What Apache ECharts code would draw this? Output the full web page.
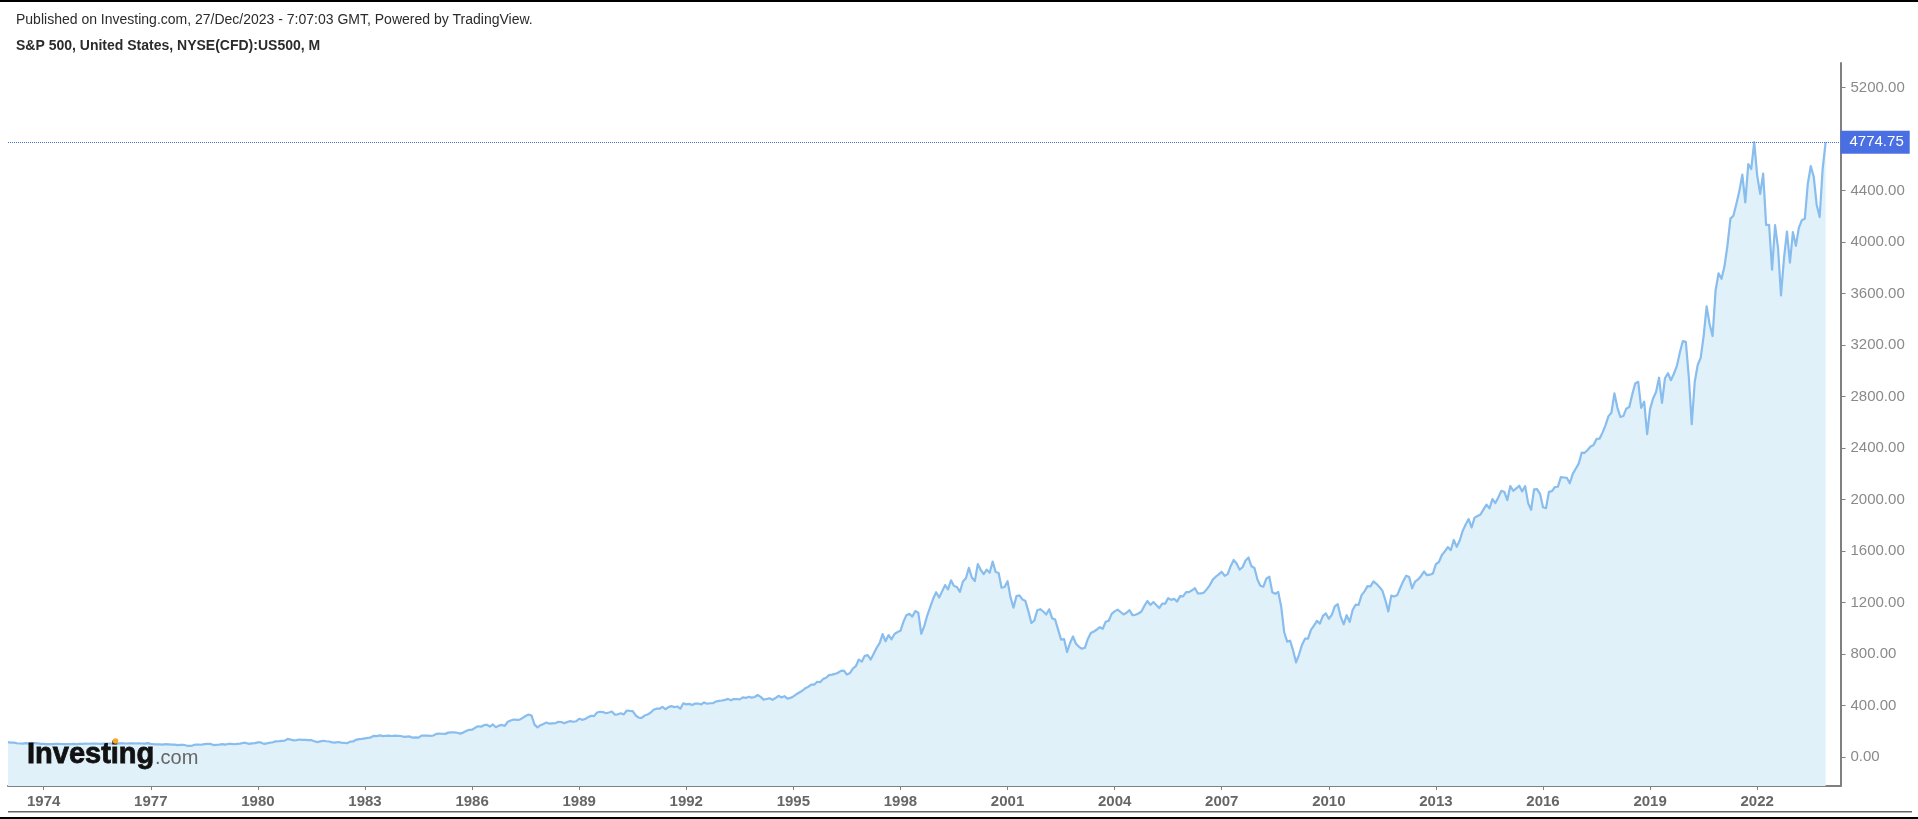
<!DOCTYPE html>
<html><head><meta charset="utf-8">
<style>html,body{margin:0;padding:0;background:#fff}#c{width:1918px;height:819px}</style>
<script src="https://cdn.jsdelivr.net/npm/echarts@6/dist/echarts.min.js"></script>
</head><body><div id="c"></div>
<script>
const publishedLine = "Published on Investing.com, 27/Dec/2023 - 7:07:03 GMT, Powered by TradingView.";
const instrumentLine = "S&P 500, United States, NYSE(CFD):US500, M";
const lastValue = 4774.75;
const yearTickLabels = ["1974","1977","1980","1983","1986","1989","1992","1995","1998","2001","2004","2007","2010","2013","2016","2019","2022"];
const priceTicks = [0,400,800,1200,1600,2000,2400,2800,3200,3600,4000,4400,5200];
const firstYear = 1973;
const monthsOnAxis = 617;
const monthlyClose = [
116.03,111.68,111.52,106.97,104.95,104.26,108.22,104.25,108.43,108.29,105.96,102.55,
101.57,100.22,99.98,100.31,102.28,103.00,101.31,100.15,99.54,100.90,101.97,100.56,
101.98,102.59,103.36,103.30,104.15,105.19,103.75,102.88,103.87,104.04,105.24,105.19,
106.86,105.71,106.77,105.64,105.18,106.28,105.44,104.91,106.24,104.90,104.10,107.46,
102.03,99.82,98.42,98.44,96.12,100.48,98.85,96.77,96.53,92.34,94.83,95.10,
89.25,87.04,89.21,96.83,97.24,95.53,100.68,103.29,102.54,93.15,94.70,96.11,
99.93,96.28,101.59,101.76,99.08,102.91,103.81,109.32,109.32,101.82,106.16,107.94,
114.16,113.66,102.09,106.29,111.24,114.24,121.67,122.38,125.46,127.47,140.52,135.76,
129.55,131.27,136.00,132.81,132.59,131.21,130.92,122.79,116.18,121.89,126.35,122.55,
120.40,113.11,111.96,116.44,111.88,109.61,107.09,119.51,120.42,133.71,138.54,140.64,
145.30,148.06,152.96,164.42,162.39,168.11,162.56,164.40,166.07,163.55,166.40,164.93,
163.41,157.06,159.18,160.05,150.55,153.18,150.66,166.68,166.10,166.09,163.58,167.24,
179.63,181.18,180.66,179.83,189.55,191.85,190.92,188.63,182.08,189.82,202.17,211.28,
211.78,226.92,238.90,235.52,247.35,250.84,236.12,252.93,231.32,243.98,249.22,242.17,
274.08,284.20,291.70,288.36,290.10,304.00,318.66,329.80,321.83,251.79,230.30,247.08,
257.07,267.82,258.89,261.33,262.16,273.50,272.02,261.52,271.91,278.97,273.70,277.72,
297.47,288.86,294.87,309.64,320.52,317.98,346.08,351.45,349.15,340.36,345.99,353.40,
329.08,331.89,339.94,330.80,361.23,358.02,356.15,322.56,306.05,304.00,322.22,330.22,
343.93,367.07,375.22,375.34,389.83,371.16,387.81,395.43,387.86,392.45,375.22,417.09,
408.79,412.70,403.69,414.95,415.35,408.14,424.21,414.03,417.80,418.68,431.35,435.71,
438.78,443.38,451.67,440.19,450.19,450.53,448.13,463.56,458.93,467.83,461.79,466.45,
481.61,467.14,445.77,450.91,456.50,444.27,458.26,475.49,462.69,472.35,453.69,459.27,
470.42,487.39,500.71,514.71,533.40,544.75,562.06,561.88,584.41,581.50,605.37,615.93,
636.02,640.43,645.50,654.17,669.12,670.63,639.95,651.99,687.33,705.27,757.02,740.74,
786.16,790.82,757.12,801.34,848.28,885.14,954.29,899.47,947.28,914.62,955.40,970.43,
980.28,1049.34,1101.75,1111.75,1090.82,1133.84,1120.67,957.28,1017.01,1098.67,1163.63,1229.23,
1279.64,1238.33,1286.37,1335.18,1301.84,1372.71,1328.72,1320.41,1282.71,1362.93,1388.91,1469.25,
1394.46,1366.42,1498.58,1452.43,1420.60,1454.60,1430.83,1517.68,1436.51,1429.40,1314.95,1320.28,
1366.01,1239.94,1160.33,1249.46,1255.82,1224.38,1211.23,1133.58,1040.94,1059.78,1139.45,1148.08,
1130.20,1106.73,1147.39,1076.92,1067.14,989.82,911.62,916.07,815.28,885.76,936.31,879.82,
855.70,841.15,848.18,916.92,963.59,974.50,990.31,1008.01,995.97,1050.71,1058.20,1111.92,
1131.13,1144.94,1126.21,1107.30,1120.68,1140.84,1101.72,1104.24,1114.58,1130.20,1173.82,1211.92,
1181.27,1203.60,1180.59,1156.85,1191.50,1191.33,1234.18,1220.33,1228.81,1207.01,1249.48,1248.29,
1280.08,1280.66,1294.87,1310.61,1270.09,1270.20,1276.66,1303.82,1335.85,1377.94,1400.63,1418.30,
1438.24,1406.82,1420.86,1482.37,1530.62,1503.35,1455.27,1473.99,1526.75,1549.38,1481.14,1468.36,
1378.55,1330.63,1322.70,1385.59,1400.38,1280.00,1267.38,1282.83,1166.36,968.75,896.24,903.25,
825.88,735.09,797.87,872.81,919.14,919.32,987.48,1020.62,1057.08,1036.19,1095.63,1115.10,
1073.87,1104.49,1169.43,1186.69,1089.41,1030.71,1101.60,1049.33,1141.20,1183.26,1180.55,1257.64,
1286.12,1327.22,1325.83,1363.61,1345.20,1320.64,1292.28,1218.89,1131.42,1253.30,1246.96,1257.60,
1312.41,1365.68,1408.47,1397.91,1310.33,1362.16,1379.32,1406.58,1440.67,1412.16,1416.18,1426.19,
1498.11,1514.68,1569.19,1597.57,1630.74,1606.28,1685.73,1632.97,1681.55,1756.54,1805.81,1848.36,
1782.59,1859.45,1872.34,1883.95,1923.57,1960.23,1930.67,2003.37,1972.29,2018.05,2067.56,2058.90,
1994.99,2104.50,2067.89,2085.51,2107.39,2063.11,2103.84,1972.18,1920.03,2079.36,2080.41,2043.94,
1940.24,1932.23,2059.74,2065.30,2096.95,2098.86,2173.60,2170.95,2168.27,2126.15,2198.81,2238.83,
2278.87,2363.64,2362.72,2384.20,2411.80,2423.41,2470.30,2471.65,2519.36,2575.26,2647.58,2673.61,
2823.81,2713.83,2640.87,2648.05,2705.27,2718.37,2816.29,2901.52,2913.98,2711.74,2760.17,2506.85,
2704.10,2784.49,2834.40,2945.83,2750.52,2941.76,2980.38,2926.46,2976.74,3037.56,3140.98,3230.78,
3225.52,2954.22,2584.59,2912.43,3044.31,3100.29,3271.12,3500.31,3363.00,3269.96,3621.63,3756.07,
3714.24,3811.15,3972.89,4181.17,4204.11,4297.50,4395.26,4522.68,4307.54,4605.38,4567.00,4774.75,
4515.55,4373.94,4530.41,4131.93,4132.15,3785.38,4130.29,3955.00,3585.62,3871.98,4080.11,3839.50,
4076.60,3970.15,4109.31,4169.48,4179.83,4450.38,4588.96,4507.66,4288.05,4193.80,4567.80,4774.75
];
const monthLabels = [];
for (let i = 0; i < monthsOnAxis; i++) {
  const y = firstYear + Math.floor(i / 12), m = i % 12 + 1;
  monthLabels.push(y + '-' + String(m).padStart(2, '0'));
}
const FONT = '"Liberation Sans", Arial, sans-serif';
const isYearTick = (i, v) => v.endsWith('-01') && yearTickLabels.includes(v.slice(0, 4));
const chart = echarts.init(document.getElementById('c'), null, {renderer: 'canvas'});
chart.setOption({
  animation: false,
  backgroundColor: '#fff',
  title: [
    {text: publishedLine, left: 11, top: 8.5, textStyle: {fontFamily: FONT, fontSize: 14, fontWeight: 'normal', color: '#2b2b2b'}},
    {text: instrumentLine, left: 11, top: 34, textStyle: {fontFamily: FONT, fontSize: 14, fontWeight: 'bold', color: '#2b2b2b'}}
  ],
  grid: {left: 8, top: 63, width: 1832.5, height: 723},
  xAxis: {
    type: 'category', boundaryGap: false, data: monthLabels,
    axisLine: {onZero: false, lineStyle: {color: '#808080', width: 2}},
    axisTick: {show: true, alignWithLabel: true, interval: isYearTick, length: 4, lineStyle: {color: '#808080', width: 1}},
    axisLabel: {interval: isYearTick, formatter: v => v.slice(0, 4), fontFamily: FONT, fontSize: 15, fontWeight: 'bold', color: '#666', margin: 8, hideOverlap: false},
    splitLine: {show: false}
  },
  yAxis: {
    type: 'value', position: 'right', min: -225, max: 5390,
    axisLine: {show: true, lineStyle: {color: '#808080', width: 2}},
    axisTick: {show: true, length: 5, lineStyle: {color: '#808080', width: 1}, customValues: priceTicks},
    axisLabel: {customValues: priceTicks, formatter: v => v.toFixed(2), fontFamily: FONT, fontSize: 15, color: '#8a8a8a', margin: 10},
    splitLine: {show: false}
  },
  series: [{
    type: 'line', data: monthlyClose, showSymbol: false, symbol: 'none', smooth: false,
    lineStyle: {color: '#88bdee', width: 2.2, join: 'round'},
    areaStyle: {color: '#e0f1fa', opacity: 1, origin: 'start'},
    markLine: {
      silent: true, symbol: 'none', animation: false,
      lineStyle: {color: '#4a6fe3', type: 'dotted', width: 1},
      data: [{yAxis: lastValue}],
      label: {position: 'end', distance: 0, formatter: lastValue.toFixed(2), fontFamily: FONT, fontSize: 15, color: '#fff', backgroundColor: '#4a6fe3', padding: [4, 6, 4, 9]}
    }
  }],
  graphic: [
    {type: 'rect', shape: {x: 0, y: 0, width: 1918, height: 2}, style: {fill: '#000'}},
    {type: 'rect', shape: {x: 0, y: 817, width: 1918, height: 2}, style: {fill: '#000'}},
    {type: 'rect', shape: {x: 8, y: 811, width: 1904, height: 1.5}, style: {fill: '#666'}},
    {type: 'text', x: 27, y: 740, z: 20, style: {text: 'Investing', fontFamily: FONT, fontSize: 29, fontWeight: 'bold', fill: '#111', stroke: '#111', lineWidth: 0.8}},
    {type: 'text', x: 155, y: 748, z: 20, style: {text: '.com', fontFamily: FONT, fontSize: 20, fill: '#666'}},
    {type: 'circle', shape: {cx: 115.5, cy: 741, r: 2.8}, z: 20, style: {fill: '#f5a623'}}
  ]
});
</script></body></html>
